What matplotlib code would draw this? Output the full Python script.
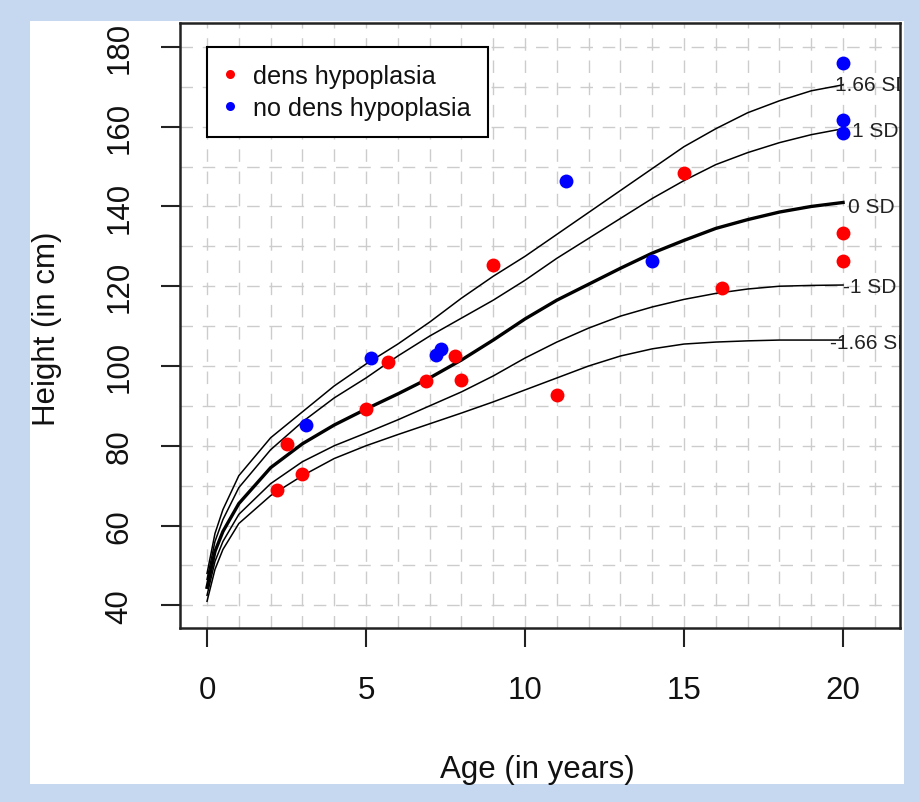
import matplotlib
matplotlib.use("Agg")
import matplotlib.pyplot as plt
from matplotlib.patches import Rectangle
from matplotlib.lines import Line2D

# ---- data ----
curve_age = [0, 0.25, 0.5, 1, 2, 3, 4, 5, 6, 7, 8, 9, 10, 11, 12, 13, 14, 15, 16, 17, 18, 19, 20]
sd_p166 = [48, 58, 64, 72.5, 82, 88.5, 95, 100.5, 105.5, 111, 117, 122.5, 127.5, 133, 138.5, 144, 149.5, 155, 159.5, 163.5, 166.5, 169, 170.5]
sd_p1 = [46.5, 56, 61.5, 69.5, 79, 86, 92, 97, 102.5, 107.5, 112, 116.5, 121.5, 127, 132, 137, 142, 146.5, 150.5, 153.5, 156, 158, 159.5]
sd_0 = [44.5, 53.5, 58.5, 65.5, 74.5, 80.5, 85.2, 89.2, 93, 97, 101.5, 106.5, 111.8, 116.5, 120.5, 124.5, 128.3, 131.5, 134.5, 136.7, 138.6, 140, 141]
sd_m1 = [42.5, 51, 56, 62.8, 70.5, 76, 80, 83.2, 86.5, 90, 93.5, 97.5, 102, 106, 109.5, 112.5, 114.8, 116.7, 118.2, 119.3, 120, 120.2, 120.3]
sd_m166 = [41, 49, 54, 60.5, 67.5, 72.5, 76.8, 80, 82.8, 85.5, 88.2, 91, 94, 97, 100, 102.5, 104.3, 105.5, 106, 106.3, 106.5, 106.5, 106.5]
sd_labels = ["1.66 SD", "1 SD", "0 SD", "-1 SD", "-1.66 SD"]

red_age = [2.2, 2.5, 3.0, 5.0, 5.7, 6.9, 7.8, 8.0, 9.0, 11.0, 15.0, 16.2, 20.0, 20.0]
red_h = [68.8, 80.5, 72.8, 89.2, 101.0, 96.3, 102.5, 96.5, 125.3, 92.8, 148.3, 119.5, 133.4, 126.4]
blue_age = [3.1, 5.15, 7.2, 7.35, 11.3, 14.0, 20.0, 20.0, 20.0]
blue_h = [85.1, 102.0, 102.7, 104.3, 146.3, 126.3, 176.0, 161.8, 158.5]

legend_labels = ["dens hypoplasia", "no dens hypoplasia"]
x_ticks = [0, 5, 10, 15, 20]
y_ticks = [40, 60, 80, 100, 120, 140, 160, 180]

FONT = ["Liberation Sans", "DejaVu Sans"]
plt.rcParams['font.family'] = FONT

fig = plt.figure(figsize=(9.2, 8.03), dpi=100, facecolor="#c6d8ef")
fig.patches.append(Rectangle((30/920, 1-785/803), (904-30)/920, (785-22)/803,
                             transform=fig.transFigure, facecolor="white",
                             edgecolor="none", zorder=-10))

ax = fig.add_axes([180/920, 1-629/803, 720/920, 605/803])
ax.set_zorder(2)
ax.set_facecolor("white")
ax.set_xlim(-0.85, 21.79)
ax.set_ylim(34.3, 186.0)

# grid
grid_kw = dict(color="#cccccc", lw=1.0, ls=(0, (9, 7)), zorder=1)
for gx in range(0, 22):
    ax.axvline(gx, **grid_kw)
for gy in range(40, 190, 10):
    ax.axhline(gy, **grid_kw)

# curves
curves = [sd_p166, sd_p1, sd_0, sd_m1, sd_m166]
widths = [1.1, 1.1, 2.4, 1.1, 1.1]
for c, w in zip(curves, widths):
    ax.plot(curve_age, c, color="black", lw=w, zorder=3, solid_joinstyle="round")

# SD labels (clipped at the right edge of the plot)
lab_pos = [(19.75, 170.6), (20.27, 159.0), (20.16, 140.0), (20.0, 120.0), (19.6, 105.9)]
for (lx, ly), t in zip(lab_pos, sd_labels):
    ax.text(lx, ly, t, fontsize=15, color="#222222", ha="left", va="center",
            clip_on=True, zorder=4)

# points
ax.plot(red_age, red_h, "o", color="#ff0000", ms=10, mec="none", zorder=5)
ax.plot(blue_age, blue_h, "o", color="#0000ff", ms=10, mec="none", zorder=5)

# legend
handles = [Line2D([], [], ls="none", marker="o", color="#ff0000", ms=6.5, mec="none"),
           Line2D([], [], ls="none", marker="o", color="#0000ff", ms=6.5, mec="none")]
leg = ax.legend(handles, legend_labels, loc="upper left",
                bbox_to_anchor=(27/720, (629-48)/605), borderaxespad=0,
                fontsize=18.2, frameon=True, fancybox=False, framealpha=1,
                edgecolor="black", handlelength=0.45, handletextpad=0.7,
                borderpad=0.68, labelspacing=0.3)
leg.get_frame().set_linewidth(1.5)
for t in leg.get_texts():
    t.set_color("#111111")
leg.set_zorder(6)

# axes styling
for s in ax.spines.values():
    s.set_linewidth(1.8)
    s.set_color("#222222")
ax.set_xticks(x_ticks)
ax.set_yticks(y_ticks)
ax.set_xticklabels([str(v) for v in x_ticks])
ax.set_yticklabels([str(v) for v in y_ticks], rotation=90, va="center")
ax.tick_params(axis="both", direction="out", length=14, width=1.5, color="#222222",
               labelsize=22.5, labelcolor="#111111")
ax.tick_params(axis="x", pad=20)
ax.tick_params(axis="y", pad=19)

fig.text(537/920, 1-770/803, "Age (in years)", fontsize=22.5, ha="center",
         va="center", color="#111111")
fig.text(47/920, 1-329/803, "Height (in cm)", fontsize=22.5, ha="center",
         va="center", rotation=90, color="#111111")

fig.savefig("out.png", dpi=100, facecolor=fig.get_facecolor())
